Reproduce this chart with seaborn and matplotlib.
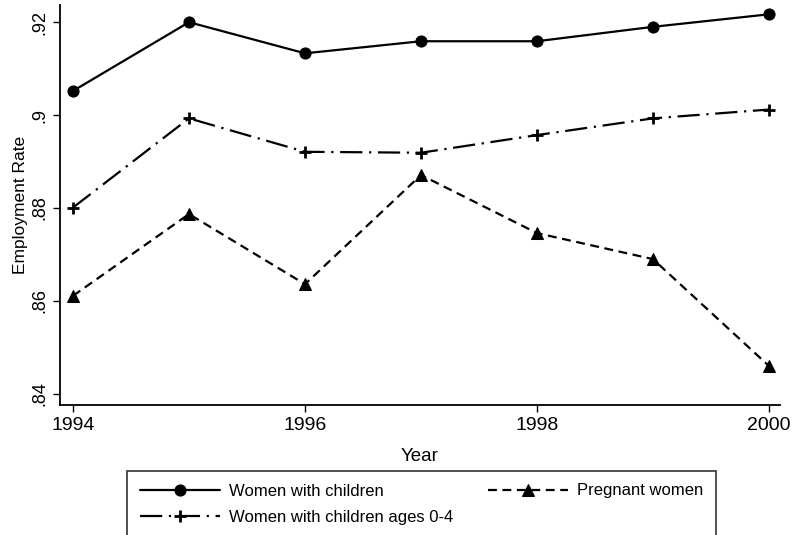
import matplotlib
matplotlib.use("Agg")
import matplotlib.pyplot as plt
import seaborn as sns

years = [1994, 1995, 1996, 1997, 1998, 1999, 2000]
women_children = [0.9052, 0.9200, 0.9133, 0.9159, 0.9159, 0.9190, 0.9217]
women_children_04 = [0.8801, 0.8993, 0.8921, 0.8919, 0.8957, 0.8993, 0.9012]
pregnant = [0.8611, 0.8787, 0.8636, 0.8871, 0.8746, 0.8690, 0.8460]
y_ticks = [0.84, 0.86, 0.88, 0.90, 0.92]
y_tick_labels = [".84", ".86", ".88", ".9", ".92"]
x_ticks = [1994, 1996, 1998, 2000]

sns.set_style("ticks")
plt.rcParams["font.family"] = ["Liberation Sans", "DejaVu Sans"]
plt.rcParams["text.color"] = "black"
plt.rcParams["axes.labelcolor"] = "black"

fig = plt.figure(figsize=(7.92, 5.35), dpi=100)
ax = fig.add_axes([60 / 792, 130 / 535, 720 / 792, 400 / 535])

sns.lineplot(x=years, y=women_children, ax=ax, color="black", lw=1.6,
             marker="o", markersize=8, markeredgecolor="black",
             label="Women with children")
sns.lineplot(x=years, y=women_children_04, ax=ax, color="black", lw=1.6,
             linestyle=(0, (10, 3, 1, 3)), marker="+", markersize=9,
             markeredgewidth=2, markeredgecolor="black",
             label="Women with children ages 0-4")
sns.lineplot(x=years, y=pregnant, ax=ax, color="black", lw=1.6,
             linestyle=(0, (4, 2.5)), marker="^", markersize=9,
             markeredgecolor="black", label="Pregnant women")

ax.set_xlim(1993.888, 2000.095)
ax.set_ylim(0.8376, 0.9237)
ax.set_xticks(x_ticks)
ax.set_xticklabels([str(x) for x in x_ticks], fontsize=14)
ax.set_yticks(y_ticks)
ax.set_yticklabels(y_tick_labels, fontsize=13, rotation=90, va="center")
ax.tick_params(direction="out", length=5, width=1, colors="black")
ax.set_xlabel("Year", fontsize=13.5, labelpad=10)
ax.set_ylabel("Employment Rate", fontsize=12.5, labelpad=2)
sns.despine(ax=ax)
for s in ["left", "bottom"]:
    ax.spines[s].set_linewidth(1.3)
    ax.spines[s].set_color("black")

ax.get_legend().remove()
handles, labels = ax.get_legend_handles_labels()
leg = fig.legend(handles, labels, ncol=2, loc="upper left",
                 bbox_to_anchor=(127 / 792, 1 - 471 / 535), fontsize=12,
                 handlelength=4.8, handletextpad=0.55, frameon=True,
                 fancybox=False, edgecolor="black", borderaxespad=0,
                 columnspacing=2.1, labelspacing=0.7, borderpad=0.75)
leg.get_frame().set_linewidth(1.2)

fig.savefig("out.png", dpi=100)
